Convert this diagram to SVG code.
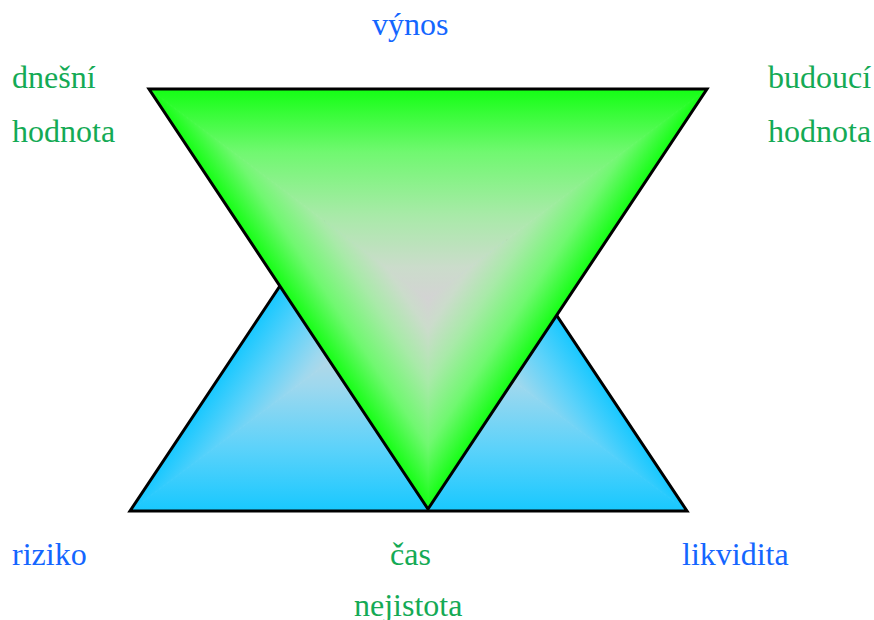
<svg xmlns="http://www.w3.org/2000/svg" width="874" height="620" viewBox="0 0 874 620">
<style>
text{font-family:"Liberation Serif","Times New Roman",serif;font-size:32px}
.b{fill:#1466ff}
.g{fill:#14aa55}
.outline{fill:none;stroke:#000;stroke-width:3;stroke-linejoin:miter}
</style>
<defs>
<linearGradient id="blueRamp"><stop offset="0" stop-color="#18c8ff"/><stop offset="0.3" stop-color="#5cd2fa"/><stop offset="0.6" stop-color="#9ed8ee"/><stop offset="0.85" stop-color="#c6d8e0"/><stop offset="1" stop-color="#d3d3d3"/></linearGradient>
<linearGradient id="greenRamp"><stop offset="0" stop-color="#14ff14"/><stop offset="0.3" stop-color="#70f870"/><stop offset="0.6" stop-color="#a8eaa8"/><stop offset="0.85" stop-color="#cbdccb"/><stop offset="1" stop-color="#d3d3d3"/></linearGradient>
<linearGradient id="bB" href="#blueRamp" gradientUnits="userSpaceOnUse" x1="408.5" y1="511" x2="408.5" y2="302"/>
<linearGradient id="bL" href="#blueRamp" gradientUnits="userSpaceOnUse" x1="312" y1="237.8" x2="408.5" y2="302"/>
<linearGradient id="bR" href="#blueRamp" gradientUnits="userSpaceOnUse" x1="505" y1="237.8" x2="408.5" y2="302"/>
<linearGradient id="gT" href="#greenRamp" gradientUnits="userSpaceOnUse" x1="428" y1="89" x2="428" y2="299"/>
<linearGradient id="gR" href="#greenRamp" gradientUnits="userSpaceOnUse" x1="524.8" y1="363.3" x2="428" y2="299"/>
<linearGradient id="gL" href="#greenRamp" gradientUnits="userSpaceOnUse" x1="331.2" y1="363.3" x2="428" y2="299"/>
</defs>
<g id="blue-triangle">
<polygon points="130,511 687,511 408.5,302" fill="url(#bB)" stroke="url(#bB)" stroke-width="1"/>
<polygon points="130,511 408.5,93 408.5,302" fill="url(#bL)" stroke="url(#bL)" stroke-width="1"/>
<polygon points="687,511 408.5,93 408.5,302" fill="url(#bR)" stroke="url(#bR)" stroke-width="1"/>
<polygon class="outline" points="130,511 687,511 408.5,93"/>
</g>
<g id="green-triangle">
<polygon points="149,89 707,89 428,299" fill="url(#gT)" stroke="url(#gT)" stroke-width="1"/>
<polygon points="707,89 428,509 428,299" fill="url(#gR)" stroke="url(#gR)" stroke-width="1"/>
<polygon points="149,89 428,509 428,299" fill="url(#gL)" stroke="url(#gL)" stroke-width="1"/>
<polygon class="outline" points="149,89 707,89 428,509"/>
</g>
<g id="labels">
<text class="b" x="372" y="35">výnos</text>
<text class="g" x="12" y="88">dnešní</text>
<text class="g" x="12" y="142">hodnota</text>
<text class="g" x="768" y="88">budoucí</text>
<text class="g" x="768" y="142">hodnota</text>
<text class="b" x="12" y="565">riziko</text>
<text class="g" x="390" y="565">čas</text>
<text class="b" x="682" y="565">likvidita</text>
<text class="g" x="354" y="616">nejistota</text>
</g>
<g id="connectors"/>
</svg>
